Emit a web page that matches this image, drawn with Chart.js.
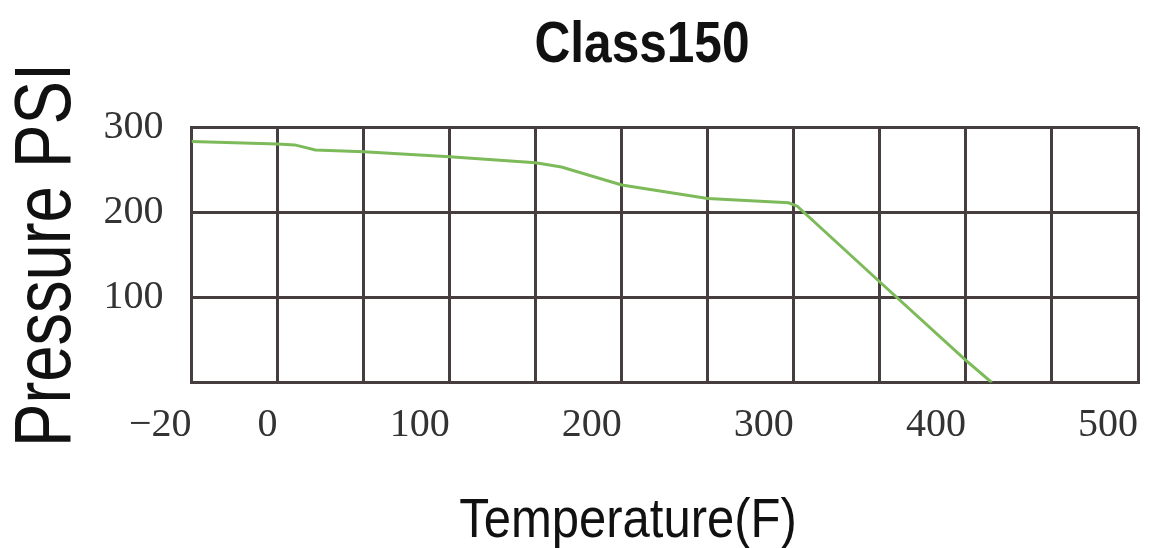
<!DOCTYPE html>
<html>
<head>
<meta charset="utf-8">
<title>Class150</title>
<script src="https://cdn.jsdelivr.net/npm/chart.js@4.4.1/dist/chart.umd.min.js"></script>
<style>
  html, body { margin: 0; padding: 0; background: #fff; }
  #wrap { width: 1150px; height: 548px; }
</style>
</head>
<body>
<div id="wrap"><canvas id="pt_chart"></canvas></div>
<script>
// temperature (axis units, grid every 50) and pressure
const temps = [-50, 0, 10, 22, 50, 100, 150, 165, 200, 250, 297, 302, 350, 400, 415];
const pressure = [283, 280, 279, 273, 271, 265, 258, 253, 232, 216, 211, 207, 118, 26, 0];

// x tick labels (the left edge is labelled -20 in the original)
const xTickValues = [-50, 0, 100, 200, 300, 400, 500];
const xTickLabels = ["\u221220", "0", "100", "200", "300", "400", "500"];
const yTickValues = [100, 200, 300];

const chartTitle = "Class150";
const xTitle = "Temperature(F)";
const yTitle = "Pressure PSI";

const gridColor = "#463e3e";
const sans = "'Liberation Sans', Arial, sans-serif";
const serif = "'Liberation Serif', 'DejaVu Serif', serif";

const ctx = document.getElementById("pt_chart").getContext("2d");

const points = temps.map((t, i) => ({ x: t, y: pressure[i] }));

// the original uses a narrow sans face, none is installed, so squeeze the text
function narrowText(c, text, x, y, font, sx, angle) {
	c.save();
	c.translate(x, y);
	c.rotate(angle || 0);
	c.scale(sx, 1);
	c.font = font;
	c.fillStyle = "#111";
	c.textAlign = "center";
	c.textBaseline = "alphabetic";
	c.fillText(text, 0, 0);
	c.restore();
}

const titles = {
	id: "narrowTitles",
	afterDraw(chart) {
		const c = chart.ctx;
		narrowText(c, chartTitle, 642, 62, "bold 57px " + sans, 0.87);
		narrowText(c, xTitle, 628, 537, "56px " + sans, 0.875);
		narrowText(c, yTitle, 70, 255, "80px " + sans, 0.815, -Math.PI / 2);
	}
};

new Chart(ctx, {
	type: "line",
	data: {
		datasets: [{
			label: chartTitle,
			data: points,
			borderColor: "#7dba5a",
			borderWidth: 3,
			pointRadius: 0,
			fill: false,
			tension: 0
		}]
	},
	options: {
		responsive: true,
		maintainAspectRatio: false,
		animation: false,
		layout: { padding: { top: 127, right: 12 } },
		plugins: {
			legend: { display: false },
			tooltip: { enabled: false },
			title: { display: false }
		},
		scales: {
			x: {
				type: "linear",
				min: -50,
				max: 500,
				afterFit: (scale) => {
					scale.height = 165.5;
					scale.paddingLeft = 0;
					scale.paddingRight = 0;
				},
				ticks: {
					stepSize: 50,
					autoSkip: false,
					maxRotation: 0,
					align: "end",
					padding: 19,
					color: "#333",
					font: { family: serif, size: 40 },
					callback: (v) => {
						const i = xTickValues.indexOf(v);
						return i >= 0 ? xTickLabels[i] : "";
					}
				},
				grid: { color: gridColor, lineWidth: 3, drawTicks: false },
				border: { color: gridColor, width: 3 }
			},
			y: {
				min: 0,
				max: 300,
				afterFit: (scale) => { scale.width = 191.5; },
				ticks: {
					stepSize: 100,
					padding: 28,
					color: "#333",
					font: { family: serif, size: 40 },
					callback: (v) => (yTickValues.includes(v) ? String(v) : "")
				},
				grid: { color: gridColor, lineWidth: 3, drawTicks: false },
				border: { color: gridColor, width: 3 }
			}
		}
	},
	plugins: [titles]
});
</script>
</body>
</html>
